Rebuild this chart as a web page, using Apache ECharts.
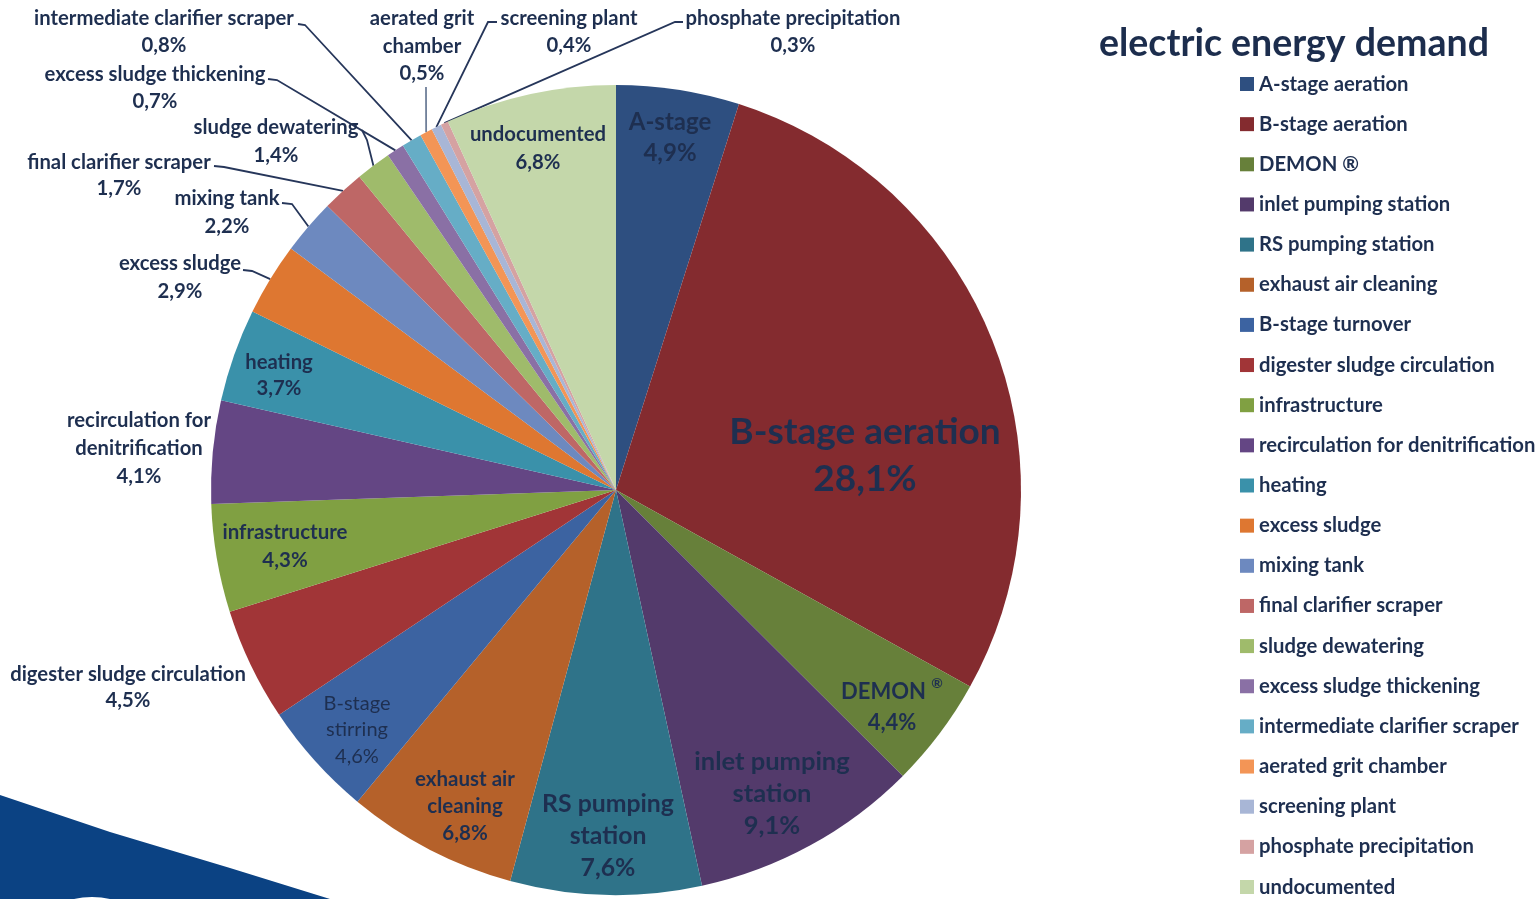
<!DOCTYPE html>
<html>
<head>
<meta charset="utf-8">
<title>electric energy demand</title>
<script src="https://cdn.jsdelivr.net/npm/echarts@6/dist/echarts.min.js"></script>
<style>
  html, body { margin: 0; padding: 0; background: #ffffff; }
  #chart { width: 1539px; height: 899px; }
</style>
</head>
<body>
<div id="chart"></div>
<script>
// Consumers of the plant, in clockwise order starting at 12 o'clock
const categories = [
  'A-stage aeration', 'B-stage aeration', 'DEMON \u00AE', 'inlet pumping station',
  'RS pumping station', 'exhaust air cleaning', 'B-stage turnover',
  'digester sludge circulation', 'infrastructure', 'recirculation for denitrification',
  'heating', 'excess sludge', 'mixing tank', 'final clarifier scraper',
  'sludge dewatering', 'excess sludge thickening', 'intermediate clarifier scraper',
  'aerated grit chamber', 'screening plant', 'phosphate precipitation', 'undocumented'
];

// Share of the electric energy demand in percent
const shares = [4.9, 28.1, 4.4, 9.1, 7.6, 6.8, 4.6, 4.5, 4.3, 4.1, 3.7, 2.9, 2.2, 1.7, 1.4, 0.7, 0.8, 0.5, 0.4, 0.3, 6.8];

// Text shown on / next to each slice
const sliceLabels = [
  'A-stage', 'B-stage aeration', 'DEMON {sup|\u00AE}', 'inlet pumping\nstation',
  'RS pumping\nstation', 'exhaust air\ncleaning', 'B-stage\nstirring',
  'digester sludge circulation', 'infrastructure', 'recirculation for\ndenitrification',
  'heating', 'excess sludge', 'mixing tank', 'final clarifier scraper',
  'sludge dewatering', 'excess sludge thickening', 'intermediate clarifier scraper',
  'aerated grit\nchamber', 'screening plant', 'phosphate precipitation', 'undocumented'
];

const sliceColors = [
  '#2e4f80', '#842b2f', '#67803a', '#533a6b', '#2f7389', '#b5612a', '#3c63a1',
  '#a13537', '#80a042', '#644684', '#3a91aa', '#de7731', '#6d89bf', '#be6766',
  '#9fbb6b', '#8a70a5', '#66adc6', '#f39556', '#a8b6d6', '#d5a2a2', '#c4d7aa'
];

const TEXT = '#1e2f50';
const FONT = 'Lato';
const SMALL = 20.3;

// Label placement for each slice: centre of the text block, font, and optional leader line
const labelSpots = [
  { pos: 'inside', x: 670, y: 138, size: 24, lh: 31 },
  { pos: 'inside', x: 865, y: 456, size: 37, lh: 47 },
  { pos: 'inside', x: 892, y: 707, size: 22, lh: 31 },
  { pos: 'inside', x: 772, y: 794, size: 25.5, lh: 32 },
  { pos: 'inside', x: 608, y: 836, size: 24.8, lh: 32 },
  { pos: 'inside', x: 465, y: 806, size: 20.5, lh: 27 },
  { pos: 'inside', x: 357, y: 730, size: 20, lh: 26.5, w: 'normal' },
  { pos: 'outside', x: 128, y: 687, size: SMALL, lh: 26 },
  { pos: 'inside', x: 285, y: 546, size: 20.5, lh: 28 },
  { pos: 'outside', x: 139, y: 448, size: SMALL, lh: 28 },
  { pos: 'inside', x: 279, y: 375, size: 20.3, lh: 26 },
  { pos: 'outside', x: 180, y: 277, size: SMALL, lh: 28, leader: [243, 270, 252, 271] },
  { pos: 'outside', x: 227, y: 212, size: SMALL, lh: 28, leader: [282, 203, 292, 204] },
  { pos: 'outside', x: 119, y: 175, size: SMALL, lh: 26, leader: [214, 166, 224, 167] },
  { pos: 'outside', x: 276, y: 141, size: SMALL, lh: 28, leader: [362, 130, 367, 140] },
  { pos: 'outside', x: 155, y: 88, size: SMALL, lh: 27, leader: [268, 79, 277, 80] },
  { pos: 'outside', x: 164, y: 32, size: SMALL, lh: 27, leader: [298, 24, 305, 25] },
  { pos: 'outside', x: 422, y: 46, size: SMALL, lh: 27.5, leader: [426, 87, 426, 88], lineColor: '#6f7f99' },
  { pos: 'outside', x: 569, y: 32, size: SMALL, lh: 27, leader: [497, 22, 488, 22] },
  { pos: 'outside', x: 793, y: 32, size: SMALL, lh: 27, leader: [683, 22, 675, 22] },
  { pos: 'inside', x: 538, y: 148, size: 20.3, lh: 28 }
];

const formatShare = v => v.toFixed(1).replace('.', ',') + '%';

const pieData = categories.map((name, i) => {
  const s = labelSpots[i];
  return {
    name: name,
    value: shares[i],
    itemStyle: { color: sliceColors[i] },
    label: {
      position: s.pos,
      fontSize: s.size,
      lineHeight: s.lh,
      fontWeight: s.w || 'bold',
      rich: {
        sup: { fontSize: 14, fontWeight: 'bold', color: TEXT, fontFamily: FONT, verticalAlign: 'top', lineHeight: 27 }
      }
    },
    labelLine: {
      show: !!s.leader,
      lineStyle: { color: s.lineColor || '#26365a', width: 1.8 }
    }
  };
});

const chart = echarts.init(document.getElementById('chart'), null, { renderer: 'canvas' });

chart.setOption({
  animation: false,
  backgroundColor: '#ffffff',
  title: {
    text: 'electric energy demand',
    left: 1094,
    top: 20,
    textStyle: { fontFamily: FONT, fontSize: 37.5, fontWeight: 'bold', color: '#1c2d4d' }
  },
  legend: {
    orient: 'vertical',
    left: 1240,
    top: 74,
    padding: 0,
    icon: 'rect',
    itemWidth: 14,
    itemHeight: 14,
    itemGap: 20.15,
    selectedMode: false,
    data: categories,
    textStyle: { fontFamily: FONT, fontSize: 20.3, fontWeight: 'bold', color: TEXT }
  },
  graphic: [
    {
      type: 'polygon',
      z: -1,
      shape: { points: [[0, 795], [110, 832], [230, 868], [330, 899], [0, 899]] },
      style: { fill: '#0b4283' }
    },
    {
      type: 'ellipse',
      z: -1,
      shape: { cx: 92, cy: 918, rx: 42, ry: 21 },
      style: { fill: '#ffffff' }
    }
  ],
  series: [{
    type: 'pie',
    center: [616, 490],
    radius: 405,
    startAngle: 90,
    clockwise: true,
    avoidLabelOverlap: false,
    itemStyle: { borderWidth: 0 },
    label: {
      show: true,
      color: TEXT,
      fontFamily: FONT,
      align: 'center',
      formatter: p => sliceLabels[p.dataIndex] + '\n' + formatShare(p.value)
    },
    labelLine: { length: 10, length2: 10 },
    labelLayout: function (params) {
      const s = labelSpots[params.dataIndex];
      const out = { x: s.x, y: s.y, align: 'center', verticalAlign: 'middle' };
      if (s.leader && params.labelLinePoints) {
        const arcPoint = params.labelLinePoints[0];
        out.labelLinePoints = [
          [arcPoint[0], arcPoint[1]],
          [s.leader[2], s.leader[3]],
          [s.leader[0], s.leader[1]]
        ];
      }
      return out;
    },
    emphasis: { disabled: true },
    data: pieData
  }]
});
</script>
</body>
</html>
